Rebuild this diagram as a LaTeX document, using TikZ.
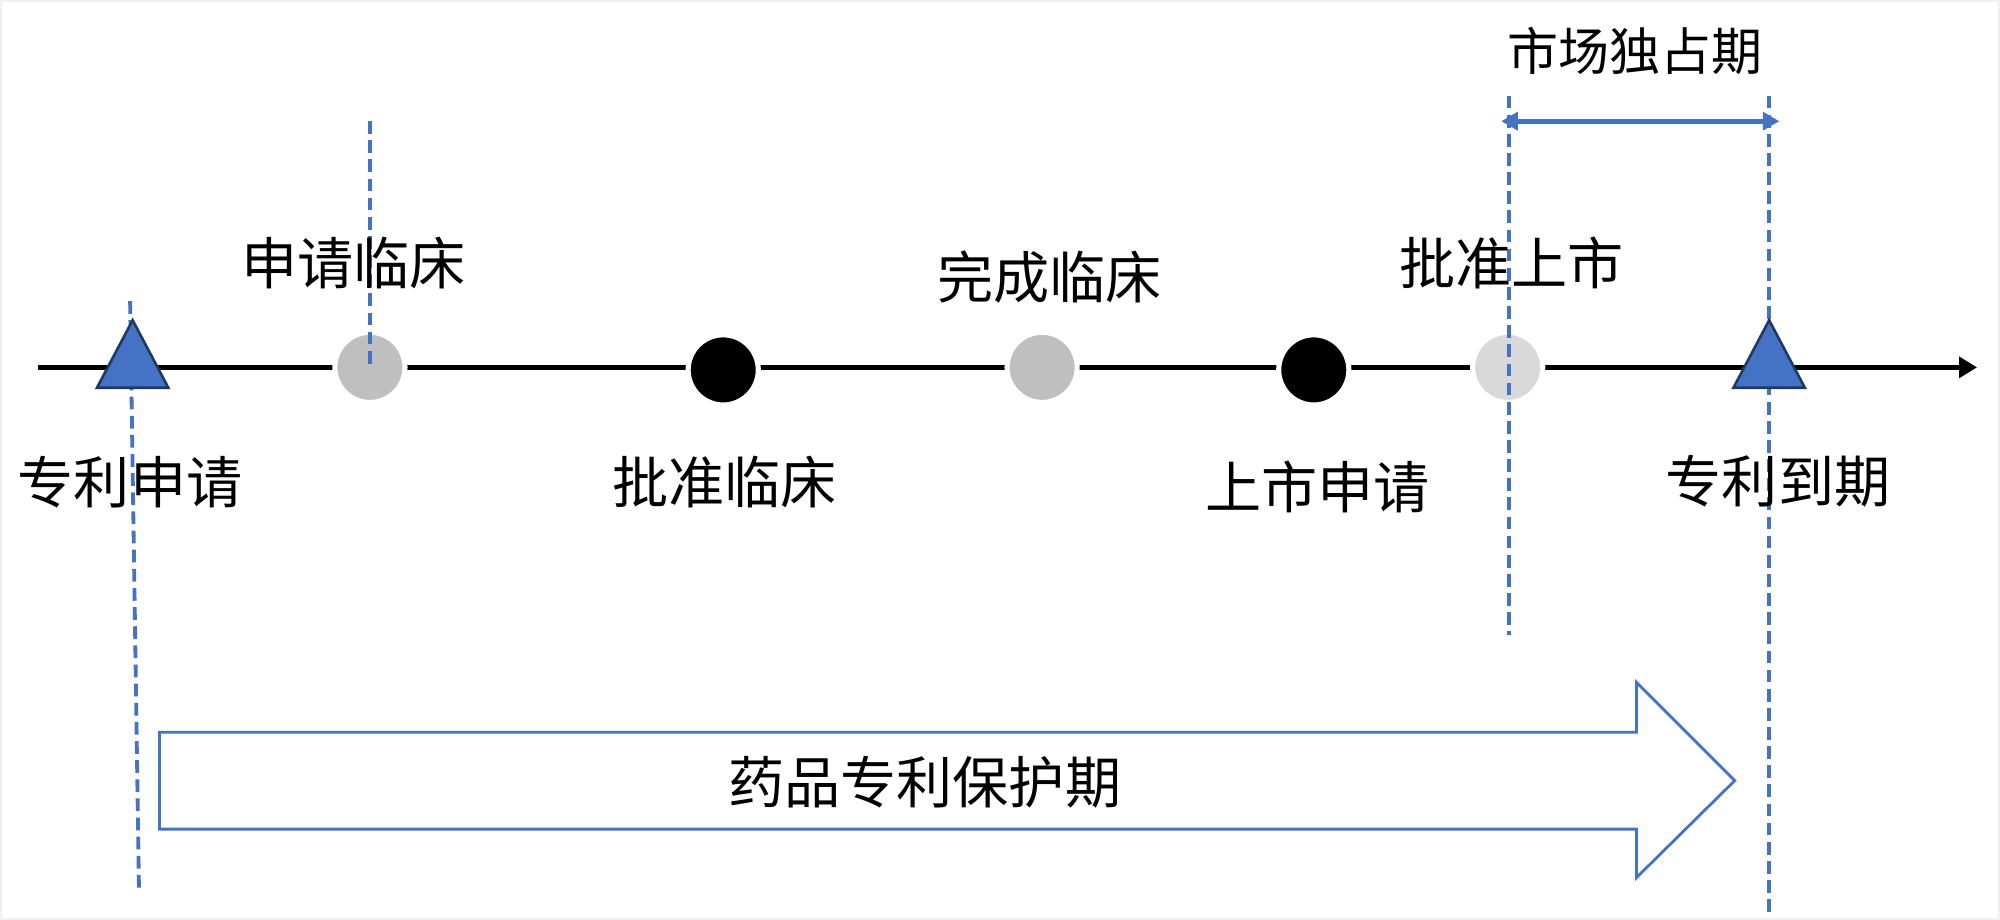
\documentclass[tikz,border=0pt]{standalone}
\usepackage{fontspec}
\setmainfont{Noto Sans CJK SC}
\usetikzlibrary{arrows.meta}
\definecolor{guideblue}{HTML}{4472C4}
\definecolor{navyline}{HTML}{1F3864}
\definecolor{midgray}{HTML}{BFBFBF}
\definecolor{palegray}{HTML}{D9D9D9}

\begin{document}
\begin{tikzpicture}[x=1pt,y=-1pt]
        \tikzstyle{every node}=[font=\fontsize{44}{48}\selectfont, text=black, inner sep=0pt]
        \tikzstyle{event}=[circle, minimum size=55pt, draw=white, line width=4pt]
        \tikzstyle{patent}=[fill=guideblue, draw=navyline, line width=2pt, line join=miter]
        \tikzstyle{guide}=[guideblue, line width=3pt, dash pattern=on 10pt off 5pt]

        \useasboundingbox (0,0) rectangle (1568,721);
        \draw[gray!12, line width=1.5pt] (0.75,0.75) rectangle (1567.25,720.25);

        % time axis
        \coordinate (t0) at (30,288);
        \coordinate (t1) at (1550,288);
        \draw[line width=3.6pt, -{Triangle[length=14pt,width=16pt]}] (t0) -- (t1);

        % guides behind the triangles
        \coordinate (g1a) at (102,236);  \coordinate (g1b) at (109,700);
        \coordinate (g4a) at (1387,75);  \coordinate (g4b) at (1387,715);
        \draw[guide] (g1a) -- (g1b);
        \draw[guide] (g4a) -- (g4b);

        \draw[patent] (76,304) -- (104,251) -- (132,304) -- cycle;
        \draw[patent] (1359,304) -- (1387,251) -- (1415,304) -- cycle;

        \node[event, fill=midgray]  (apply)   at (290,288)  {};
        \node[event, fill=black]    (approve) at (567,290)  {};
        \node[event, fill=midgray]  (finish)  at (817,288)  {};
        \node[event, fill=black]    (submit)  at (1030,290) {};
        \node[event, fill=palegray] (market)  at (1182,288) {};

        % guides over the circles
        \coordinate (g2a) at (290,95);   \coordinate (g3a) at (1183,75);
        \coordinate (g3b) at (1183,498);
        \draw[guide] (g2a) -- (apply.center);
        \draw[guide] (g3a) -- (g3b);

        \node (lfile)    at (102,378)  {专利申请};
        \node (lapply)   at (277,206)  {申请临床};
        \node (lapprove) at (568,378)  {批准临床};
        \node (lfinish)  at (823,217)  {完成临床};
        \node (lsubmit)  at (1033,382) {上市申请};
        \node (lmarket)  at (1185,206) {批准上市};
        \node (lexpire)  at (1394,377) {专利到期};

        % exclusivity span
        \coordinate (x0) at (1177,95);
        \coordinate (x1) at (1395,95);
        \draw[guideblue, line width=4pt, {Triangle[length=13pt,width=14pt]}-{Triangle[length=13pt,width=14pt]}] (x0) -- (x1);
        \node[font=\fontsize{40}{44}\selectfont] (lexcl) at (1282,40) {市场独占期};

        % protection period
        \draw[guideblue, line width=2.2pt, line join=miter] (125,574) -- (1283,574) -- (1283,535) -- (1360,612)
            -- (1283,688) -- (1283,650) -- (125,650) -- cycle;
        \node (lprotect) at (725,613) {药品专利保护期};
\end{tikzpicture}
\end{document}
